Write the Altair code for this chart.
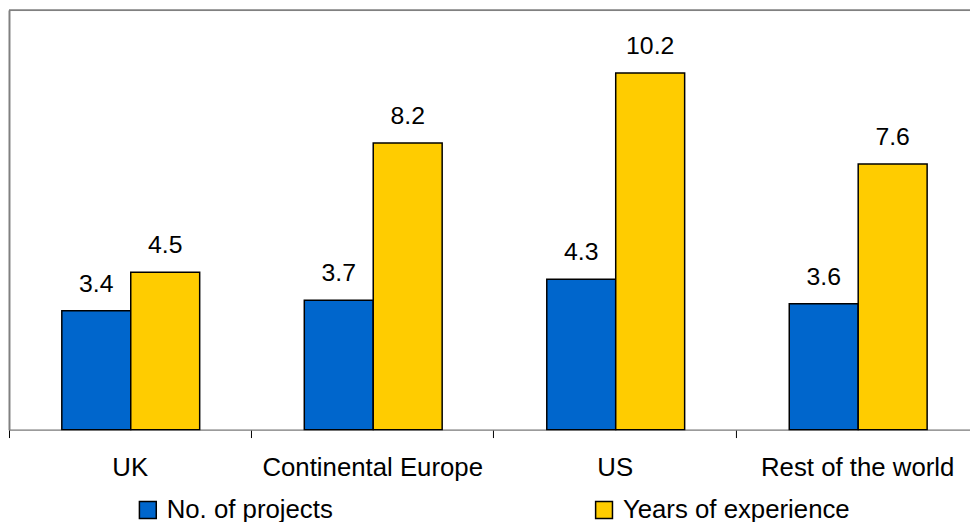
import altair as alt
import pandas as pd

regions = ["UK", "Continental Europe", "US", "Rest of the world"]
series = ["No. of projects", "Years of experience"]
projects = [3.4, 3.7, 4.3, 3.6]
experience = [4.5, 8.2, 10.2, 7.6]
colors = ["#0066CC", "#FFCC00"]
y_max = 12

rows = []
for r, p, e in zip(regions, projects, experience):
    rows.append({"region": r, "series": series[0], "value": p})
    rows.append({"region": r, "series": series[1], "value": e})
df = pd.DataFrame(rows)

FONT = "Liberation Sans"

# The last category band runs past the right edge of the picture in the
# reference; a small inner padding gives the same step inside the visible width.
x = alt.X(
    "region:N",
    sort=regions,
    scale=alt.Scale(paddingInner=0.0368, paddingOuter=0),
    axis=alt.Axis(
        title=None, labelAngle=0, bandPosition=0, tickSize=8, tickColor="#000",
        tickWidth=1, domainColor="#808080", domainWidth=1.5, labelFontSize=26,
        labelFont=FONT, labelColor="#000", labelBaseline="alphabetic",
        labelPadding=38, labelOffset=4.5, labelLimit=400, grid=False,
    ),
)
xo = alt.XOffset(
    "series:N", sort=series,
    scale=alt.Scale(paddingInner=0, paddingOuter=0.694, align=0.552),
)
y = alt.Y(
    "value:Q",
    scale=alt.Scale(domain=[0, y_max], nice=False, zero=True),
    axis=alt.Axis(
        title=None, labels=False, ticks=False, grid=False, domain=True,
        domainColor="#808080", domainWidth=2,
    ),
)

bars = alt.Chart(df).mark_bar(stroke="black", strokeWidth=1.5, opacity=1).encode(
    x=x,
    xOffset=xo,
    y=y,
    color=alt.Color(
        "series:N",
        sort=series,
        scale=alt.Scale(domain=series, range=colors),
        legend=alt.Legend(
            title=None, orient="none", legendX=127, legendY=491,
            direction="horizontal", symbolType="square", symbolSize=289,
            symbolStrokeColor="black", symbolStrokeWidth=1.5, symbolOpacity=1,
            labelFontSize=26, labelFont=FONT, labelColor="#000", labelOffset=6,
            columnPadding=260, padding=0, labelLimit=400,
        ),
    ),
)

labels = alt.Chart(df).mark_text(
    dy=-19, baseline="alphabetic", fontSize=25, font=FONT, color="#000"
).encode(x=x, xOffset=xo, y=y, text=alt.Text("value:Q", format=".1f"))

top_border = alt.Chart(pd.DataFrame({"top": [y_max]})).mark_rule(
    color="#808080", strokeWidth=2
).encode(y=alt.Y("top:Q"))

chart = (
    alt.layer(bars, labels, top_border)
    .properties(
        width=969, height=423,
        padding={"left": 1, "top": 0, "right": 0, "bottom": 91},
        autosize=alt.AutoSizeParams(type="none"),
        background="white",
    )
    .configure_view(strokeWidth=0)
    .configure(font=FONT)
)

chart.save("out.html", embed_options={"renderer": "svg", "actions": False})
